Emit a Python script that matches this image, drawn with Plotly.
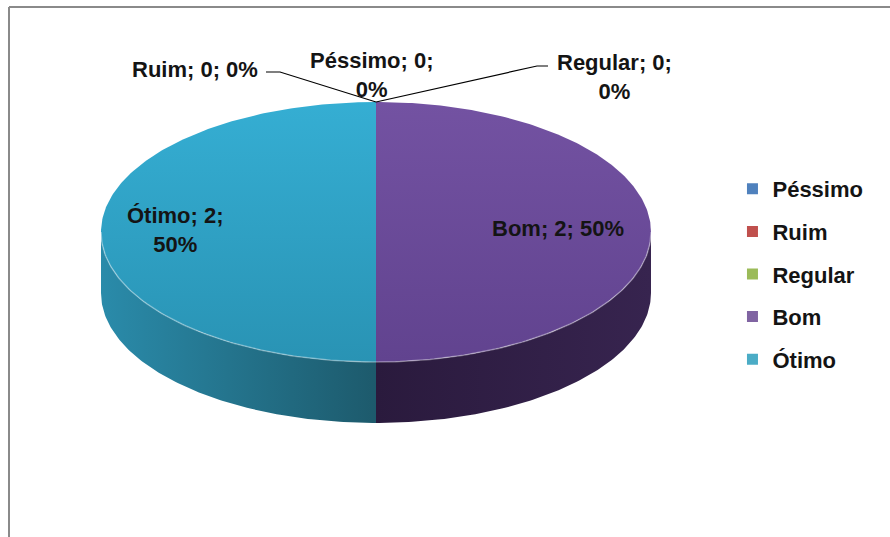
import numpy as np
import plotly.graph_objects as go

# ---------------- data ----------------
categories = ["Péssimo", "Ruim", "Regular", "Bom", "Ótimo"]
values = [0, 0, 0, 2, 2]

# ---------------- style ----------------
legend_colors = ["#4F81BD", "#C0504D", "#9BBB59", "#8064A2", "#4BACC6"]
top_grad = {"Bom": ("#7352A2", "#61438F"), "Ótimo": ("#35AED3", "#2993B4"),
            "Péssimo": ("#4F81BD", "#3F6A9E"), "Ruim": ("#C0504D", "#A03F3D"),
            "Regular": ("#9BBB59", "#7F9C45")}
side_grad = {"Bom": ("#2A1A3D", "#37244F"), "Ótimo": ("#2A8BAA", "#1D5A6C"),
             "Péssimo": ("#2F4E75", "#223A58"), "Ruim": ("#7A2F2D", "#5C2322"),
             "Regular": ("#617A33", "#4A5E26")}
FONT = "Liberation Sans, Arial, sans-serif"

W, H = 890, 537
CX, CY, RX, RY, DEPTH = 376, 232, 275, 130, 61

# label layout (pixel positions) and leader elbows
label_pos = {"Péssimo": (372, 75), "Ruim": (195, 69), "Regular": (614, 77),
             "Bom": (558, 228), "Ótimo": (175, 230)}
label_wrap = {"Péssimo": True, "Ruim": False, "Regular": True, "Bom": False, "Ótimo": True}
leader = {"Ruim": [(280, 72), (266, 72)], "Regular": [(537, 66), (548, 66)]}


def pt(t_deg, dy=0.0):
    t = np.radians(t_deg)
    return CX + RX * np.sin(t), CY - RY * np.cos(t) + dy


total = float(sum(values))
cum = np.concatenate([[0.0], np.cumsum(values)]) / total * 360.0

fig = go.Figure()

# side walls (front half only: 90..270 deg clockwise from 12 o'clock)
for i, cat in enumerate(categories):
    t0, t1 = cum[i], cum[i + 1]
    a, b = max(t0, 90.0), min(t1, 270.0)
    if values[i] <= 0 or b <= a:
        continue
    ts = np.linspace(a, b, 120)
    xs_top, ys_top = pt(ts)
    xs_bot, ys_bot = pt(ts[::-1], DEPTH)
    xs = np.concatenate([xs_top, xs_bot, xs_top[:1]])
    ys = np.concatenate([ys_top, ys_bot, ys_top[:1]])
    c0, c1 = side_grad[cat]
    fig.add_trace(go.Scatter(
        x=xs, y=ys, mode="lines", fill="toself", line=dict(width=0),
        fillgradient=dict(type="horizontal", colorscale=[[0, c0], [1, c1]],
                          start=float(xs.min()), stop=float(xs.max())),
        hoverinfo="skip", showlegend=False))

# top faces
for i, cat in enumerate(categories):
    t0, t1 = cum[i], cum[i + 1]
    if values[i] <= 0:
        continue
    ts = np.linspace(t0, t1, 240)
    ax, ay = pt(ts)
    xs = np.concatenate([[CX], ax, [CX]])
    ys = np.concatenate([[CY], ay, [CY]])
    c0, c1 = top_grad[cat]
    fig.add_trace(go.Scatter(
        x=xs, y=ys, mode="lines", fill="toself", line=dict(width=0),
        fillgradient=dict(type="vertical", colorscale=[[0, c0], [1, c1]],
                          start=CY - RY, stop=CY + RY),
        hoverinfo="skip", showlegend=False))

# subtle rim highlight on the front edge of the top face
ts = np.linspace(90, 270, 200)
rx_, ry_ = pt(ts)
fig.add_trace(go.Scatter(x=rx_, y=ry_, mode="lines",
                         line=dict(color="rgba(255,255,255,0.35)", width=1.5),
                         hoverinfo="skip", showlegend=False))

# leader lines for zero-size slices
for i, cat in enumerate(categories):
    if cat in leader:
        sx, sy = pt(cum[i])
        lx = [sx] + [p[0] for p in leader[cat]]
        ly = [sy] + [p[1] for p in leader[cat]]
        fig.add_trace(go.Scatter(x=lx, y=ly, mode="lines",
                                 line=dict(color="#000000", width=1.2),
                                 hoverinfo="skip", showlegend=False))

# legend entries
for i, cat in enumerate(categories):
    fig.add_trace(go.Scatter(
        x=[None], y=[None], mode="markers", name=cat, legendgroup=cat,
        marker=dict(symbol="square", size=11, color=legend_colors[i],
                    line=dict(width=0))))

# data labels
for i, cat in enumerate(categories):
    pct = values[i] / total
    sep = "<br>" if label_wrap[cat] else " "
    txt = f"{cat}; {values[i]};{sep}{pct:.0%}"
    x, y = label_pos[cat]
    fig.add_annotation(x=x, y=y, xref="x", yref="y", text=txt, showarrow=False,
                       xanchor="center", yanchor="middle", align="center",
                       font=dict(family=FONT, size=22, color="#141414", weight="bold"))

# chart-area border (top and left edges visible)
fig.add_shape(type="line", xref="x", yref="y", x0=9, y0=H, x1=9, y1=7,
              line=dict(color="#8a8a8a", width=2))
fig.add_shape(type="line", xref="x", yref="y", x0=9, y0=7, x1=W, y1=7,
              line=dict(color="#8a8a8a", width=2))

fig.update_layout(
    width=W, height=H, margin=dict(l=0, r=0, t=0, b=0),
    paper_bgcolor="white", plot_bgcolor="white",
    xaxis=dict(range=[0, W], visible=False, fixedrange=True),
    yaxis=dict(range=[H, 0], visible=False, fixedrange=True),
    showlegend=True,
    legend=dict(x=0.823, y=1 - 168 / H, xanchor="left", yanchor="top",
                font=dict(family=FONT, size=22, color="#141414", weight="bold"),
                tracegroupgap=11, itemwidth=30, bgcolor="rgba(0,0,0,0)"),
)

fig.write_html("out.html")
